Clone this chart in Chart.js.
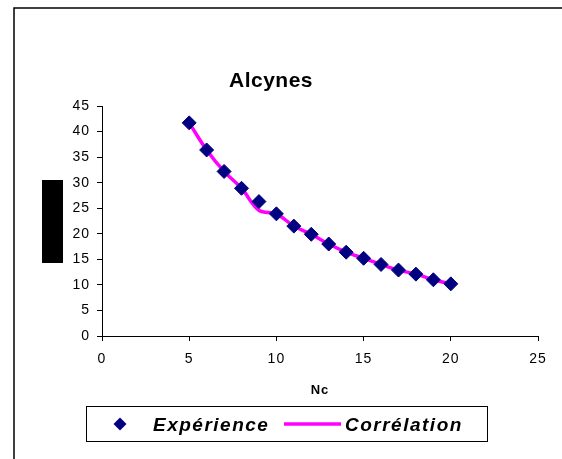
<!DOCTYPE html>
<html>
<head>
<meta charset="utf-8">
<script src="https://cdn.jsdelivr.net/npm/chart.js@4.4.1/dist/chart.umd.min.js"></script>
<style>
  html, body { margin: 0; padding: 0; background: #fff; }
  canvas { display: block; }
</style>
</head>
<body>
<canvas id="chart" width="562" height="459"></canvas>
<script>
// values
const nc = [5, 6, 7, 8, 9, 10, 11, 12, 13, 14, 15, 16, 17, 18, 19, 20];
const experience = [41.7, 36.4, 32.2, 28.9, 26.3, 23.9, 21.5, 19.9, 18.0, 16.4, 15.2, 14.0, 12.9, 12.1, 11.0, 10.2];
const correlation = [41.7, 36.4, 32.2, 28.9, 24.6, 23.9, 21.5, 19.9, 18.0, 16.4, 15.2, 14.0, 12.9, 12.1, 11.0, 10.2];
const xTicks = [0, 5, 10, 15, 20, 25];
const yTicks = [0, 5, 10, 15, 20, 25, 30, 35, 40, 45];
const chartTitle = "Alcynes";
const xTitle = "Nc";
const seriesNames = ["Expérience", "Corrélation"];

const FONT = "'Liberation Sans', Arial, sans-serif";
Chart.defaults.font.family = FONT;
Chart.defaults.color = "#000";

const toPoints = (xs, ys) => xs.map((x, i) => ({ x: x, y: ys[i] }));

// title, frame, hidden y label box and boxed legend, like the Excel sheet
const excelFrame = {
  id: "excelFrame",
  beforeDraw(chart) {
    chart.ctx.letterSpacing = "1px";
  },
  afterDraw(chart) {
    const ctx = chart.ctx;
    ctx.save();

    // outer frame (runs off the page right and bottom)
    ctx.strokeStyle = "#000";
    ctx.lineWidth = 1.5;
    ctx.strokeRect(14, 8, 620, 520);

    // title
    ctx.letterSpacing = "0.5px";
    ctx.fillStyle = "#000";
    ctx.font = "bold 21px " + FONT;
    ctx.textAlign = "center";
    ctx.textBaseline = "alphabetic";
    ctx.fillText(chartTitle, 271, 87);

    // blacked-out y axis title
    ctx.fillRect(42, 180, 21, 83);

    // legend box
    ctx.lineWidth = 1;
    ctx.strokeRect(86.5, 406.5, 401, 35);

    const ds = chart.data.datasets;
    // diamond marker
    ctx.fillStyle = ds[0].backgroundColor;
    ctx.beginPath();
    ctx.moveTo(120, 417.5);
    ctx.lineTo(126.5, 424);
    ctx.lineTo(120, 430.5);
    ctx.lineTo(113.5, 424);
    ctx.closePath();
    ctx.fill();

    // line sample
    ctx.strokeStyle = ds[1].borderColor;
    ctx.lineWidth = 3.5;
    ctx.beginPath();
    ctx.moveTo(284, 424);
    ctx.lineTo(341, 424);
    ctx.stroke();

    ctx.fillStyle = "#000";
    ctx.font = "italic bold 19px " + FONT;
    ctx.letterSpacing = "1.5px";
    ctx.textAlign = "left";
    ctx.fillText(ds[0].label, 153, 431);
    ctx.fillText(ds[1].label, 345, 431);

    ctx.restore();
  }
};

const ctx = document.getElementById("chart").getContext("2d");
new Chart(ctx, {
  type: "scatter",
  data: {
    datasets: [
      {
        label: seriesNames[0],
        data: toPoints(nc, experience),
        showLine: false,
        pointStyle: "rectRot",
        pointRadius: 7,
        pointHoverRadius: 7,
        backgroundColor: "#000080",
        borderColor: "#000080",
        borderWidth: 1
      },
      {
        label: seriesNames[1],
        data: toPoints(nc, correlation),
        showLine: true,
        pointRadius: 0,
        borderColor: "#FF00FF",
        backgroundColor: "#FF00FF",
        borderWidth: 3.5,
        tension: 0.35
      }
    ]
  },
  options: {
    responsive: false,
    animation: false,
    layout: { padding: { left: 52, right: 24, top: 106, bottom: 54 } },
    plugins: {
      legend: { display: false },
      title: { display: false },
      tooltip: { enabled: false }
    },
    scales: {
      x: {
        type: "linear",
        min: 0,
        max: 25,
        afterBuildTicks: s => { s.ticks = xTicks.map(v => ({ value: v })); },
        afterFit: s => { s.height = 69; },
        grid: { display: true, drawOnChartArea: false, drawTicks: true, tickLength: 5, color: "#000" },
        border: { display: true, color: "#000", width: 1 },
        ticks: { font: { size: 14 }, padding: 10, maxRotation: 0 },
        title: { display: true, text: xTitle, font: { size: 13, weight: "bold" }, padding: { top: 0, bottom: 7 } }
      },
      y: {
        min: 0,
        max: 45,
        afterBuildTicks: s => { s.ticks = yTicks.map(v => ({ value: v })); },
        afterFit: s => { s.width = 50; },
        grid: { display: true, drawOnChartArea: false, drawTicks: true, tickLength: 5, color: "#000" },
        border: { display: true, color: "#000", width: 1 },
        ticks: { font: { size: 14 }, padding: 7 }
      }
    }
  },
  plugins: [excelFrame]
});
</script>
</body>
</html>
